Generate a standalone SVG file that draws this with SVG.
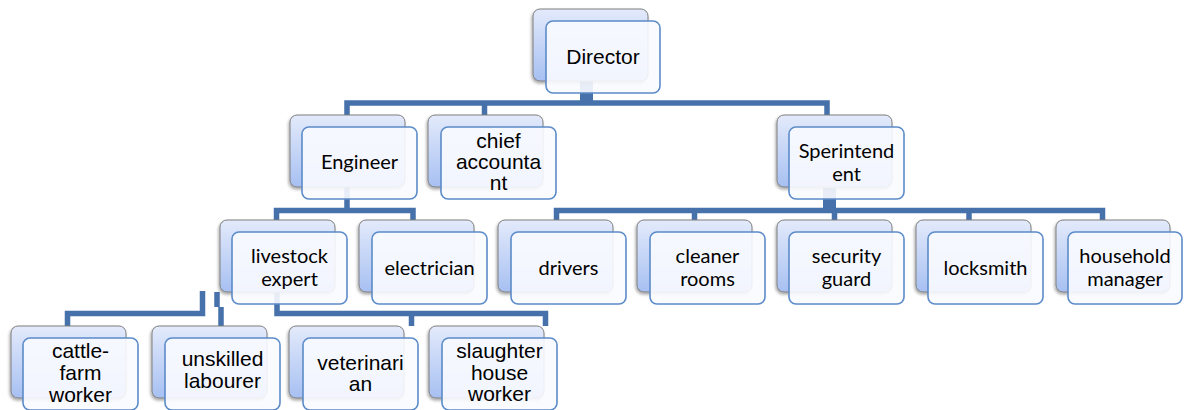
<svg xmlns="http://www.w3.org/2000/svg" width="1184" height="410" viewBox="0 0 1184 410">
<defs>
<linearGradient id="bg" x1="0" y1="0" x2="0" y2="1">
<stop offset="0" stop-color="#e3eafb"/>
<stop offset="1" stop-color="#a7c0f2"/>
</linearGradient>
<filter id="sh" x="-10%" y="-10%" width="120%" height="125%">
<feDropShadow dx="-1" dy="2" stdDeviation="1.5" flood-color="#000" flood-opacity="0.35"/>
</filter>
<style>
.back{fill:url(#bg);stroke:#7f7f7f;stroke-width:1;filter:url(#sh)}
.front{fill:#f9fbff;fill-opacity:0.9;stroke:#5b8bc8;stroke-width:1.6}
.cn{fill:none;stroke:#4671aa;stroke-width:5.5;stroke-linejoin:miter}
.stub{fill:none;stroke:#4671aa;stroke-width:13}
.a{font-family:"Liberation Sans",Arial,sans-serif;font-size:21px;fill:#000;text-anchor:middle}
.c{font-family:Lato,"Open Sans",sans-serif;font-size:20px;fill:#000;text-anchor:middle}
</style>
</defs>
<rect width="1184" height="410" fill="#fff"/>
<g id="connectors">
<line class="stub" x1="586.5" y1="81" x2="586.5" y2="103"/>
<path class="cn" d="M347 115 V103 H827 V115"/>
<path class="cn" d="M484.5 103 V115"/>
<path class="cn" d="M347 187 V210.5"/>
<path class="cn" d="M276.5 221 V210.5 H413 V220"/>
<line class="stub" x1="829.5" y1="188" x2="829.5" y2="210.5"/>
<path class="cn" d="M556.5 220 V210.5 H1102.5 V220"/>
<path class="cn" d="M694.5 210.5 V220 M834.5 210.5 V220 M969 210.5 V220"/>
<path class="cn" d="M277 292 V313.5 H545.5 V326"/>
<path class="cn" d="M411.5 313.5 V326"/>
<path class="cn" d="M202.5 291 V313.5 H67.5 V326"/>
<path class="cn" d="M217 292 V307 M221 307 V326"/>
</g>
<g id="director"><rect class="back" x="533" y="9" width="115" height="72" rx="7"/><rect class="front" x="546" y="21" width="114" height="72" rx="7"/><text class="a" x="603" y="64">Director</text></g>
<g id="engineer"><rect class="back" x="290" y="115" width="115" height="72" rx="7"/><rect class="front" x="302" y="127" width="115" height="72" rx="7"/><text class="c" x="359.5" y="169">Engineer</text></g>
<g id="chief"><rect class="back" x="428" y="115" width="115" height="72" rx="7"/><rect class="front" x="441" y="127" width="115" height="72" rx="7"/><text class="a" x="498.5" y="148">chief</text><text class="a" x="498.5" y="169">accounta</text><text class="a" x="498.5" y="190">nt</text></g>
<g id="sperintendent"><rect class="back" x="777" y="115" width="115" height="72" rx="7"/><rect class="front" x="789" y="127" width="115" height="72" rx="7"/><text class="c" x="846.5" y="158">Sperintend</text><text class="c" x="846.5" y="181">ent</text></g>
<g id="livestock"><rect class="back" x="220" y="220" width="115" height="72" rx="7"/><rect class="front" x="232" y="232" width="115" height="72" rx="7"/><text class="c" x="289.5" y="263">livestock</text><text class="c" x="289.5" y="286">expert</text></g>
<g id="electrician"><rect class="back" x="359" y="220" width="115" height="72" rx="7"/><rect class="front" x="372" y="232" width="115" height="72" rx="7"/><text class="c" x="429.5" y="275">electrician</text></g>
<g id="drivers"><rect class="back" x="498" y="220" width="115" height="72" rx="7"/><rect class="front" x="511" y="232" width="115" height="72" rx="7"/><text class="c" x="568.5" y="275">drivers</text></g>
<g id="cleaner"><rect class="back" x="637" y="220" width="115" height="72" rx="7"/><rect class="front" x="650" y="232" width="115" height="72" rx="7"/><text class="c" x="707.5" y="263">cleaner</text><text class="c" x="707.5" y="286">rooms</text></g>
<g id="security"><rect class="back" x="777" y="220" width="115" height="72" rx="7"/><rect class="front" x="789" y="232" width="115" height="72" rx="7"/><text class="c" x="846.5" y="263">security</text><text class="c" x="846.5" y="286">guard</text></g>
<g id="locksmith"><rect class="back" x="916" y="220" width="115" height="72" rx="7"/><rect class="front" x="928" y="232" width="115" height="72" rx="7"/><text class="c" x="985.5" y="275">locksmith</text></g>
<g id="household"><rect class="back" x="1056" y="220" width="114" height="72" rx="7"/><rect class="front" x="1068" y="232" width="114" height="72" rx="7"/><text class="c" x="1125" y="263">household</text><text class="c" x="1125" y="286">manager</text></g>
<g id="cattle"><rect class="back" x="11" y="326" width="115" height="72" rx="7"/><rect class="front" x="23" y="338" width="115" height="72" rx="7"/><text class="a" x="80.5" y="358">cattle-</text><text class="a" x="80.5" y="380">farm</text><text class="a" x="80.5" y="402">worker</text></g>
<g id="unskilled"><rect class="back" x="152" y="326" width="115" height="72" rx="7"/><rect class="front" x="165" y="338" width="115" height="72" rx="7"/><text class="a" x="222.5" y="366">unskilled</text><text class="a" x="222.5" y="388">labourer</text></g>
<g id="veterinarian"><rect class="back" x="289" y="326" width="115" height="72" rx="7"/><rect class="front" x="303" y="338" width="115" height="72" rx="7"/><text class="a" x="360.5" y="370">veterinari</text><text class="a" x="360.5" y="391">an</text></g>
<g id="slaughter"><rect class="back" x="429" y="326" width="115" height="72" rx="7"/><rect class="front" x="442" y="338" width="115" height="72" rx="7"/><text class="a" x="499.5" y="358">slaughter</text><text class="a" x="499.5" y="380">house</text><text class="a" x="499.5" y="401">worker</text></g>
</svg>
